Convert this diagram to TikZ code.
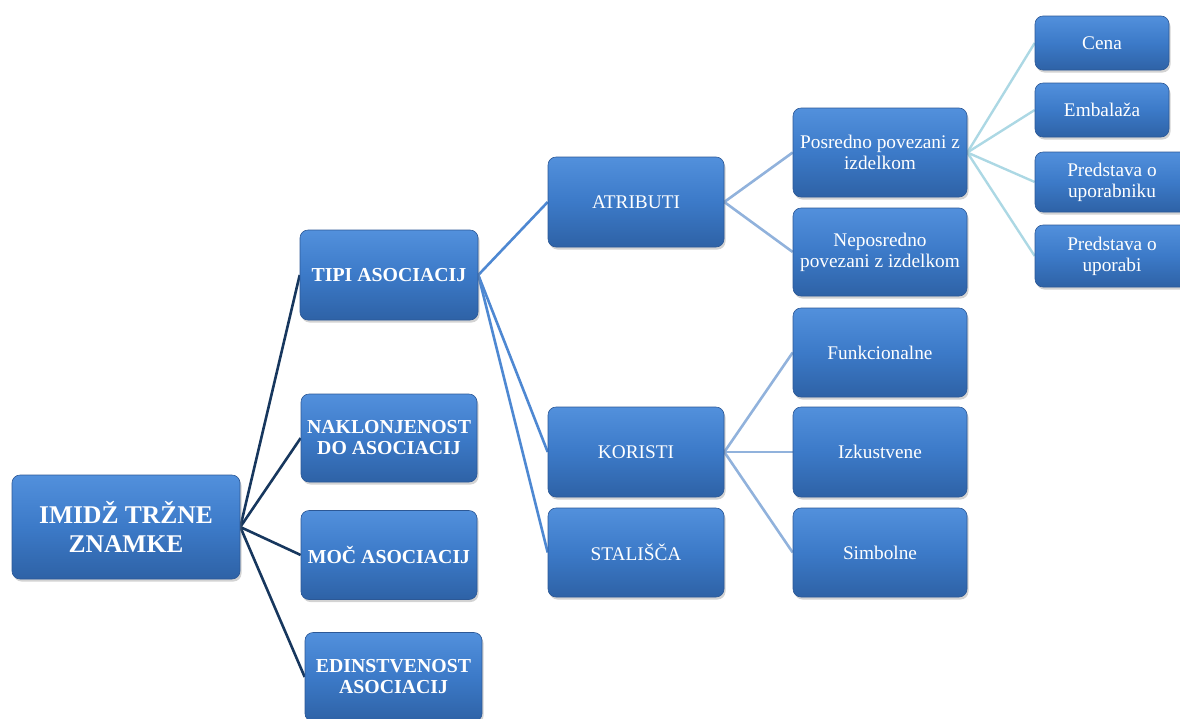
\documentclass[tikz,border=0pt]{standalone}
\usepackage{fontspec}
\setmainfont{Liberation Serif}
\usetikzlibrary{shadows,backgrounds}
\definecolor{boxtop}{RGB}{82,144,220}
\definecolor{boxmid}{RGB}{60,122,200}
\definecolor{boxbot}{RGB}{46,98,166}
\definecolor{boxedge}{RGB}{44,88,150}
\definecolor{lnA}{RGB}{23,55,94}
\definecolor{lnB}{RGB}{78,136,210}
\definecolor{lnC}{RGB}{145,178,220}
\definecolor{lnD}{RGB}{172,216,228}
\tikzset{
  box/.style={rectangle, rounded corners=8pt, top color=boxtop, bottom color=boxbot, middle color=boxmid,
    draw=boxedge, line width=0.6pt, text=white, align=center, inner sep=2pt,
    font=\fontsize{19.3}{21}\selectfont,
    drop shadow={opacity=0.35, shadow xshift=1.5pt, shadow yshift=-2.5pt}},
  bbox/.style={box, font=\fontsize{19.8}{21}\selectfont\bfseries},
  rbox/.style={box, font=\fontsize{25.5}{29}\selectfont\bfseries},
  lvA/.style={draw=lnA, line width=2.6pt},
  lvB/.style={draw=lnB, line width=2.6pt},
  lvC/.style={draw=lnC, line width=2.6pt},
  lvD/.style={draw=lnD, line width=2.4pt},
}
\begin{document}
\begin{tikzpicture}[x=1pt,y=-1pt]
\useasboundingbox (0,0) rectangle (1180,718);
\clip (0,0) rectangle (1180,718);
% root
\node[rbox, minimum width=228pt, minimum height=104pt] (root) at (126,527) {IMIDŽ TRŽNE\\ZNAMKE};
% level 1
\node[bbox, minimum width=178pt, minimum height=90pt] (tipi) at (389,275) {TIPI ASOCIACIJ};
\node[bbox, minimum width=176pt, minimum height=88pt] (nakl) at (389,438) {NAKLONJENOST\\DO ASOCIACIJ};
\node[bbox, minimum width=176pt, minimum height=89pt] (moc) at (389,555) {MOČ ASOCIACIJ};
\node[bbox, minimum width=177pt, minimum height=89pt] (edin) at (393.5,677) {EDINSTVENOST\\ASOCIACIJ};
% level 2
\node[box, minimum width=176pt, minimum height=90pt] (atr) at (636,202) {ATRIBUTI};
\node[box, minimum width=176pt, minimum height=90pt] (kor) at (636,452) {KORISTI};
\node[box, minimum width=176pt, minimum height=89pt] (stal) at (636,552.5) {STALIŠČA};
% level 3
\node[box, minimum width=174pt, minimum height=89pt] (posr) at (880,152.5) {Posredno povezani z\\izdelkom};
\node[box, minimum width=174pt, minimum height=88pt] (neposr) at (880,252) {Neposredno\\povezani z izdelkom};
\node[box, minimum width=174pt, minimum height=89pt] (funk) at (880,352.5) {Funkcionalne};
\node[box, minimum width=174pt, minimum height=90pt] (izk) at (880,452) {Izkustvene};
\node[box, minimum width=174pt, minimum height=89pt] (simb) at (880,552.5) {Simbolne};
% level 4
\node[box, minimum width=134pt, minimum height=54pt] (cena) at (1102,43) {Cena};
\node[box, minimum width=134pt, minimum height=54pt] (emb) at (1102,110) {Embalaža};
\node[box, minimum width=154pt, minimum height=60pt] (pupn) at (1112,182) {Predstava o\\uporabniku};
\node[box, minimum width=154pt, minimum height=62pt] (pupa) at (1112,256) {Predstava o\\uporabi};
% connectors
\begin{scope}[on background layer]
\draw[lvA] (root.east) -- (tipi.west);
\draw[lvA] (root.east) -- (nakl.west);
\draw[lvA] (root.east) -- (moc.west);
\draw[lvA] (root.east) -- (edin.west);
\draw[lvB] (tipi.east) -- (atr.west);
\draw[lvB] (tipi.east) -- (kor.west);
\draw[lvB] (tipi.east) -- (stal.west);
\draw[lvC] (atr.east) -- (posr.west);
\draw[lvC] (atr.east) -- (neposr.west);
\draw[lvC] (kor.east) -- (funk.west);
\draw[lvC] (kor.east) -- (izk.west);
\draw[lvC] (kor.east) -- (simb.west);
\draw[lvD] (posr.east) -- (cena.west);
\draw[lvD] (posr.east) -- (emb.west);
\draw[lvD] (posr.east) -- (pupn.west);
\draw[lvD] (posr.east) -- (pupa.west);
\end{scope}
\end{tikzpicture}
\end{document}
